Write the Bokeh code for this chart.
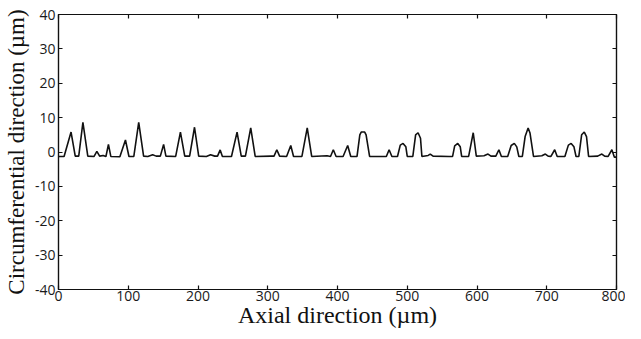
from bokeh.plotting import figure
from bokeh.models import LinearAxis, FixedTicker, Range1d
from bokeh.embed import file_html
from bokeh.resources import INLINE

# Profile vertices (axial position in µm, circumferential in µm)
axial = [0, 8, 18, 24, 29, 35, 42, 51, 55, 59, 64, 68, 71.6, 75, 88, 96, 101, 108, 115, 122,
         128, 135, 140, 146, 150.7, 154, 168, 174.8, 181, 188, 195, 201, 212, 218, 224, 228,
         231.8, 235, 248, 256, 262, 268, 275.6, 282, 305, 309, 313, 317, 327, 333, 337, 349,
         356.6, 363, 385, 390, 394, 398, 408, 414.6, 419, 428, 432, 434, 439, 441, 446, 466,
         470, 474, 478, 486, 490, 494, 498, 500, 508, 512, 515.5, 519, 521, 530, 533, 537, 560,
         565, 568, 572.4, 576, 578, 588, 594.6, 599, 610, 615.8, 620, 627, 631.4, 635, 644, 649,
         653.5, 657, 660, 665, 669, 673.3, 676, 681, 693, 698, 702, 706, 711.4, 715, 726, 731,
         735, 739, 742, 746, 750, 753.8, 757, 760, 773, 779, 783, 788, 793.4, 797, 800]
circ = [-1.3, -1.3, 5.8, -1.2, -1.2, 8.6, -1.2, -1.3, 0.2, -1.2, -1.0, -1.3, 2.2, -1.3, -1.4, 3.5,
        -1.3, -1.3, 8.6, -1.2, -1.3, -0.8, -1.2, -1.2, 2.2, -1.2, -1.3, 5.8, -1.2, -1.2, 7.2,
        -1.2, -1.3, -0.8, -1.2, -1.2, 0.6, -1.3, -1.3, 5.8, -1.2, -1.2, 7.0, -1.3, -1.2, -1.2,
        0.65, -1.2, -1.3, 1.9, -1.3, -1.3, 7.0, -1.3, -1.1, -1.3, 0.65, -1.3, -1.3, 1.9, -1.3,
        -1.3, 5.0, 5.8, 5.8, 5.0, -1.3, -1.3, -1.3, 0.65, -1.3, -1.3, 2.0, 2.5, 1.5, -1.3, -1.3,
        5.0, 5.6, 4.0, -1.3, -1.0, -0.6, -1.2, -1.3, -1.3, 1.8, 2.5, 1.5, -1.3, -1.3, 5.6, -1.2,
        -1.1, -0.6, -1.2, -1.2, 0.65, -1.3, -1.3, 1.9, 2.5, 1.5, -1.3, -1.3, 4.5, 7.0, 5.5, -1.3,
        -1.1, -0.6, -1.2, -1.3, 0.65, -1.3, -1.3, 2.0, 2.5, 1.5, -1.3, -1.3, 5.0, 5.8, 4.5, -1.3,
        -1.2, -0.6, -1.2, -1.3, 0.65, -1.5, -1.5]

x_ticks = [0, 100, 200, 300, 400, 500, 600, 700, 800]
x_tick_labels = ["0", "100", "200", "300", "400", "500", "600", "700", "800"]
y_ticks = [-40, -30, -20, -10, 0, 10, 20, 30, 40]
y_tick_labels = ["-40", "-30", "-20", "-10", "0", "10", "20", "30", "40"]

p = figure(width=625, height=331, output_backend="svg", toolbar_location=None,
           x_range=Range1d(0, 800), y_range=Range1d(-40, 40))
p.min_border_left = 53
p.min_border_right = 9
p.min_border_top = 14
p.min_border_bottom = 42
p.grid.visible = False
p.outline_line_color = "#111111"
p.outline_line_width = 1.2
p.background_fill_color = "white"
p.border_fill_color = "white"

p.line(axial, circ, line_color="#111111", line_width=1.6)

tick_font = "Open Sans"
label_font = "Liberation Serif"

def style(ax, show):
    ax.axis_line_color = "#111111"
    ax.axis_line_width = 1.2
    ax.major_tick_in = 4
    ax.major_tick_out = 0
    ax.minor_tick_line_color = None
    ax.major_tick_line_color = "#111111"
    ax.major_tick_line_width = 1.2
    ax.major_label_text_font = tick_font
    ax.major_label_text_color = "#1a1a1a"
    ax.major_label_text_font_size = "14px" if show else "1px"
    ax.major_label_standoff = 3
    ax.axis_label_text_font = label_font
    ax.axis_label_text_font_style = "normal"
    ax.axis_label_text_color = "#111111"
    ax.axis_label_standoff = 3

xa = p.xaxis[0]
ya = p.yaxis[0]
xa.ticker = FixedTicker(ticks=x_ticks)
ya.ticker = FixedTicker(ticks=y_ticks)
xa.major_label_overrides = dict(zip(x_ticks, x_tick_labels))
ya.major_label_overrides = dict(zip(y_ticks, y_tick_labels))
style(xa, True)
style(ya, True)
xa.axis_label = "Axial direction (µm)"
ya.axis_label = "Circumferential direction (µm)"
xa.axis_label_text_font_size = "24px"
ya.axis_label_text_font_size = "23px"
xa.major_label_standoff = 1
xa.axis_label_standoff = -2
ya.axis_label_standoff = 3

ra = LinearAxis(ticker=FixedTicker(ticks=y_ticks))
style(ra, False)
ra.major_label_standoff = 0
ra.major_label_overrides = {t: "" for t in y_ticks}
p.add_layout(ra, "right")
ta = LinearAxis(ticker=FixedTicker(ticks=x_ticks))
style(ta, False)
ta.major_label_standoff = 0
ta.major_label_overrides = {t: "" for t in x_ticks}
p.add_layout(ta, "above")

open("out.html", "w").write(file_html(p, INLINE))
